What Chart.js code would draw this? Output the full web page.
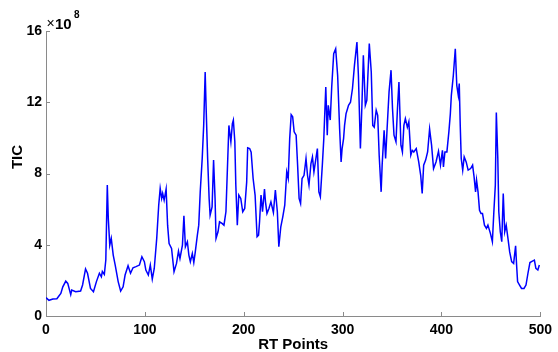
<!DOCTYPE html>
<html lang="en">
<head>
<meta charset="UTF-8">
<title>TIC vs RT Points</title>
<script src="https://cdn.jsdelivr.net/npm/chart.js"></script>
<style>
  html, body { margin: 0; padding: 0; background: #fff; }
  #wrap { width: 558px; height: 352px; }
</style>
</head>
<body>
<div id="wrap"><canvas id="ticChart"></canvas></div>
<script>
// RT point index and TIC value (in units of 1e8)
const rtPoints = [
  0, 3, 7, 11, 15, 17, 20, 22, 25, 26, 30, 35, 37, 40, 42, 45, 48, 51, 54, 56, 57, 59, 60.5, 62, 63, 64.5, 66, 68, 70, 73,
  75.5, 78, 80, 83, 85.5, 88, 91, 94.5, 97, 99.5,
  101, 103.5, 105.5, 107.5, 109.5, 112, 114, 115.5, 117, 118, 119.5, 121.5, 123, 124.5, 127, 129.5, 132, 134, 135.5, 138,
  139.5, 141, 143, 144.5, 146, 148, 149.5, 151, 153, 154.5, 156, 158, 159.5, 161, 162, 163.5, 165, 166, 168, 169.5,
  171, 172, 174, 175.5, 178, 180, 182, 183.5, 185, 187, 188.5, 189.5, 191, 192, 193.5, 195, 197, 199,
  201, 203, 204, 206, 207.5, 209.5, 211.5, 213.5, 215, 216, 217.5, 219, 221, 222, 223.5, 225.5, 227.5, 230, 232, 234,
  235.5, 237.5, 239.5, 241.5, 243.5, 245, 246.5, 248, 249.5, 251, 253, 254.5, 256, 257.5, 259, 261, 263, 264.5, 266, 268,
  269.5, 271, 273, 274.5, 276, 277.5, 279.5, 281, 283, 284.5, 285.5, 287.5, 289, 291, 293, 295, 297, 298.5,
  299.5, 301, 302, 303.5, 305, 306, 308, 310, 312, 314.5, 316, 318, 319.5, 321, 323, 324.5, 327, 329, 330.5, 332,
  334, 335.5, 337, 339, 340, 342, 343.5, 345, 347, 349, 350.5, 352, 354, 355.5, 357, 359, 360.5, 362, 363.5, 365.5,
  367, 369, 370.5, 372, 374.5, 377, 379, 380.5, 382, 384, 386, 388, 390, 392, 394.5, 397, 399,
  401, 402, 403.5, 405.5, 407.5, 409, 410, 412, 414, 415.5, 417, 418, 419, 420, 421.5, 423, 425, 427, 429.5, 431.5,
  433, 434.5, 435.5, 437, 438.5, 440, 441.5, 443.5, 445.5, 447, 449.5, 451.5, 453, 454.5, 455.5, 457, 458, 459.5, 461, 462.5,
  464, 465.5, 467.5, 469, 471, 473, 475, 476, 477, 479, 481, 483.5, 485.5, 487.5, 489.5, 492, 494, 495.5, 497.5, 499
];
const ticValues = [
  1.03, 0.88, 0.95, 0.97, 1.27, 1.64, 1.96, 1.83, 1.2, 1.46, 1.36, 1.4, 1.74, 2.64, 2.4, 1.55, 1.36, 1.93, 2.4, 2.2, 2.5, 2.34, 3.14, 7.35, 5.48, 3.98, 4.36, 3.42, 2.86, 1.93,
  1.4, 1.64, 2.3, 2.82, 2.4, 2.71, 2.77, 2.86, 3.33, 3.05,
  2.58, 2.3, 2.86, 2.07, 2.67, 4.36, 6.22, 7.16, 6.6, 6.88, 6.5, 7.12, 5.1, 4.07, 3.79, 2.49, 2.95, 3.64, 3.23, 3.98,
  5.63, 3.89, 4.17, 3.42, 3.05, 3.51, 3.0, 3.6, 4.5, 5.1, 6.97, 8.84, 10.7, 13.7, 11.64, 8.84, 6.6, 5.66, 6.13, 8.75,
  6.6, 4.36, 4.73, 5.29, 5.2, 5.1, 5.85, 8.28, 10.7, 9.78, 10.8, 11.0, 9.78, 7.35, 5.1, 6.79, 6.6, 5.85,
  6.04, 7.53, 9.44, 9.4, 9.2, 7.72, 6.79, 4.45, 4.54, 5.29, 6.79, 5.85, 7.12, 6.41, 5.76, 6.04, 6.41, 5.81, 7.07, 5.85,
  3.89, 5.01, 5.57, 6.22, 8.09, 7.72, 9.96, 11.3, 11.18, 10.34, 10.15, 8.47, 6.6, 6.32, 7.72, 7.9, 8.84, 7.9, 7.35, 8.56,
  8.93, 8.09, 8.84, 9.4, 6.97, 6.69, 8.47, 9.96, 12.86, 10.15, 11.83, 11.0, 12.86, 14.73, 15.0, 13.5, 10.5, 8.65,
  9.4, 9.96, 10.7, 11.36, 11.64, 11.83, 12.0, 12.77, 14.07, 15.38, 13.5, 9.4, 11.74, 14.64, 11.83, 12.1, 15.29, 13.7, 10.7, 10.6,
  11.55, 11.27, 9.03, 6.97, 8.47, 10.43, 8.84, 10.5, 12.58, 13.8, 11.64, 10.15, 9.78, 11.64, 13.14, 9.59, 9.21, 10.7, 11.08, 10.6,
  10.9, 9.03, 9.3, 9.21, 9.4, 8.65, 7.9, 6.88, 8.47, 8.75, 9.21, 10.5, 9.59, 8.28, 8.65, 9.25, 8.47,
  9.3, 8.37, 9.21, 9.21, 10.34, 11.36, 12.39, 13.5, 15.0, 12.95, 12.39, 13.05, 10.7, 8.84, 8.19, 8.93, 8.65, 8.19, 8.28, 8.47,
  7.81, 6.97, 7.63, 6.97, 5.94, 5.76, 5.76, 5.1, 4.92, 5.1, 4.64, 4.17, 5.85, 7.35, 11.42, 8.84, 5.85, 4.73, 4.17, 6.88,
  4.73, 5.1, 4.26, 3.6, 3.05, 2.95, 3.94, 2.86, 1.93, 1.74, 1.55, 1.55, 1.74, 2.4, 3.0, 3.08, 3.14, 2.67, 2.58, 2.86
];
const xTicks = [0, 100, 200, 300, 400, 500];
const yTicks = [0, 4, 8, 12, 16];

const axisColor = '#8a8a8a';
const fontFamily = '"Liberation Sans", Arial, sans-serif';

// matlab style: inward tick marks, exponent label and rotated y title
const matlabBits = {
  id: 'matlabBits',
  afterDraw(chart) {
    const ctx = chart.ctx;
    const area = chart.chartArea;
    const xs = chart.scales.x, ys = chart.scales.y;
    ctx.save();
    ctx.strokeStyle = axisColor;
    ctx.lineWidth = 1;
    ctx.beginPath();
    xTicks.forEach(v => {
      const px = Math.round(xs.getPixelForValue(v)) + 0.5;
      ctx.moveTo(px, area.bottom);
      ctx.lineTo(px, area.bottom - 4);
    });
    yTicks.forEach(v => {
      const py = Math.round(ys.getPixelForValue(v)) + 0.5;
      ctx.moveTo(area.left, py);
      ctx.lineTo(area.left + 4, py);
    });
    ctx.stroke();

    ctx.fillStyle = '#000';
    ctx.textBaseline = 'alphabetic';
    ctx.textAlign = 'left';
    ctx.font = '14px ' + fontFamily;
    ctx.fillText('\u00d7', area.left + 0.5, 28);
    ctx.font = 'bold 15px ' + fontFamily;
    ctx.fillText('10', area.left + 9, 28.5);
    ctx.font = 'bold 10px ' + fontFamily;
    ctx.fillText('8', area.left + 28, 17.5);

    ctx.translate(17.5, 157);
    ctx.rotate(-Math.PI / 2);
    ctx.textAlign = 'center';
    ctx.textBaseline = 'middle';
    ctx.font = 'bold 15px ' + fontFamily;
    ctx.fillText('TIC', 0, 0);
    ctx.restore();
  }
};

new Chart(document.getElementById('ticChart'), {
  type: 'line',
  data: {
    datasets: [{
      data: rtPoints.map((x, i) => ({ x: x, y: ticValues[i] })),
      borderColor: '#0000ff',
      borderWidth: 1.5,
      pointRadius: 0,
      tension: 0,
      fill: false
    }]
  },
  options: {
    responsive: true,
    maintainAspectRatio: false,
    animation: false,
    layout: { padding: { top: 31, right: 14, left: 0, bottom: 0 } },
    plugins: { legend: { display: false }, tooltip: { enabled: false } },
    scales: {
      x: {
        type: 'linear',
        min: 0,
        max: 500,
        grid: { display: false, drawTicks: false },
        border: { display: true, color: axisColor, width: 1 },
        afterBuildTicks: s => { s.ticks = xTicks.map(v => ({ value: v })); },
        afterFit: s => { s.height = 36; },
        ticks: {
          color: '#000',
          padding: 6,
          maxRotation: 0,
          autoSkip: false,
          font: { family: fontFamily, size: 14, weight: 'bold' }
        },
        title: {
          display: true,
          text: 'RT Points',
          color: '#000',
          padding: 0,
          font: { family: fontFamily, size: 15, weight: 'bold', lineHeight: 1 }
        }
      },
      y: {
        min: 0,
        max: 16,
        grid: { display: false, drawTicks: false },
        border: { display: true, color: axisColor, width: 1 },
        afterBuildTicks: s => { s.ticks = yTicks.map(v => ({ value: v })); },
        afterFit: s => { s.width = 46; },
        ticks: {
          color: '#000',
          padding: 4,
          autoSkip: false,
          font: { family: fontFamily, size: 14, weight: 'bold' }
        }
      }
    }
  },
  plugins: [matlabBits]
});
</script>
</body>
</html>
